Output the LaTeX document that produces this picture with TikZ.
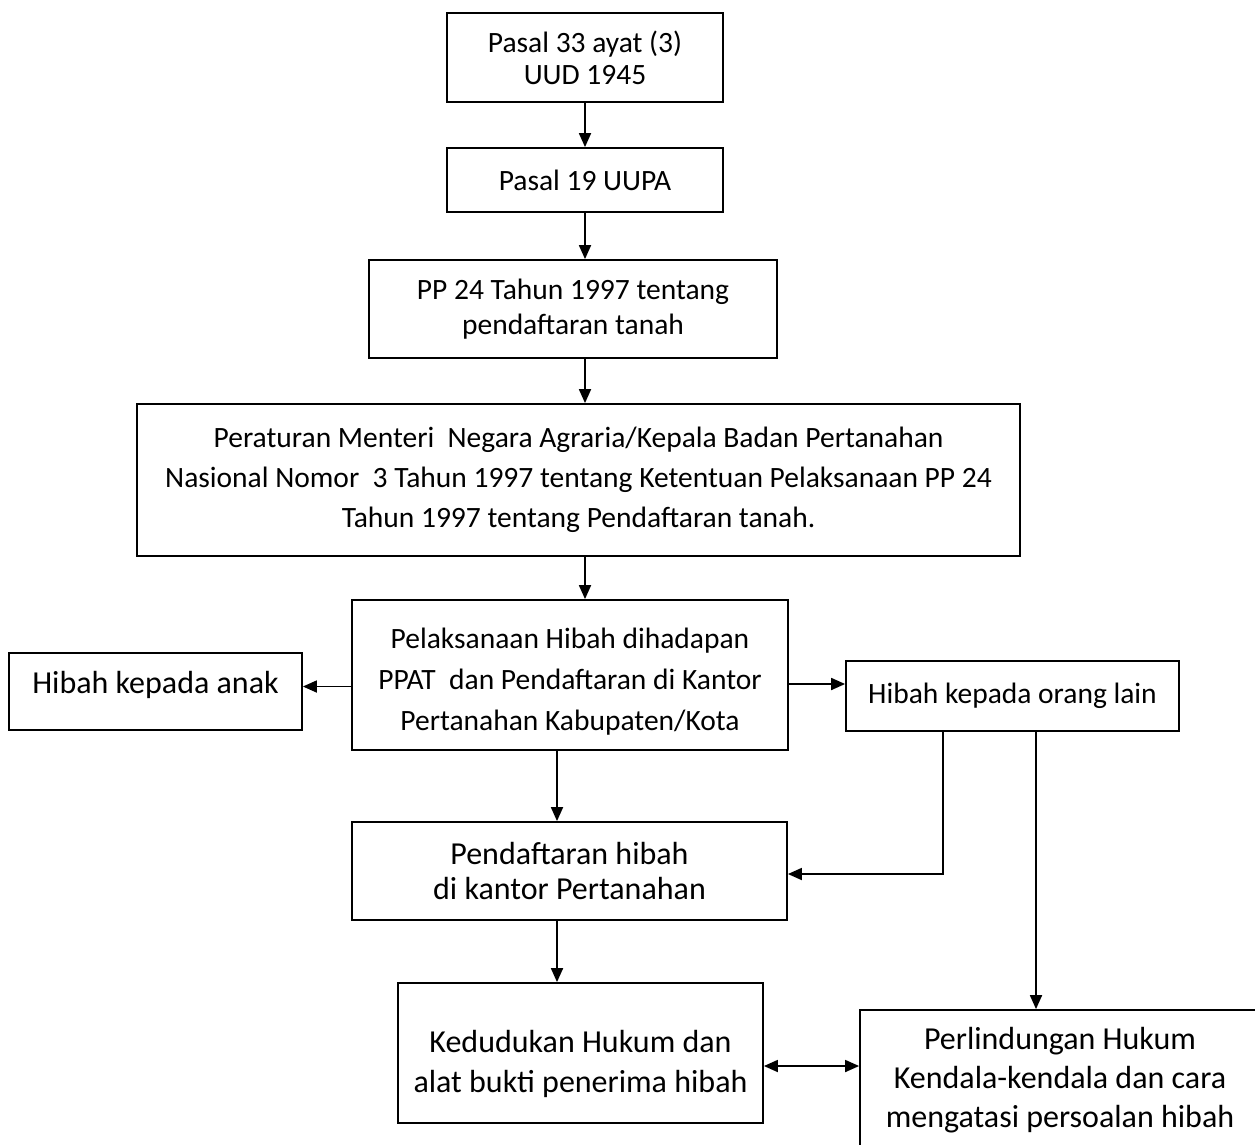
\documentclass[tikz,border=0pt]{standalone}
\usepackage{fontspec}
\setmainfont{Carlito}
\usetikzlibrary{arrows.meta}
\newcommand{\smalltext}[1]{\fontsize{29.5}{#1}\selectfont}
\newcommand{\bigtext}[1]{\fontsize{32}{#1}\selectfont}
\begin{document}
\begin{tikzpicture}
			[x=1pt,y=-1pt,box/.style={draw,line width=1.8pt,inner sep=0pt,align=center},>={Triangle[length=14pt,width=12pt]}]
			\useasboundingbox (0,0) rectangle (1255,1144);
			\node[box,name=uud,minimum width=276,minimum height=89,font=\smalltext{32}] at (585,57.5) {Pasal 33 ayat (3)\\UUD 1945};
			\node[box,name=uupa,minimum width=276,minimum height=64,font=\smalltext{32}] at (585,180) {Pasal 19 UUPA};
			\node[box,name=pp,minimum width=408,minimum height=98,font=\smalltext{35}] at (573,309) {PP 24 Tahun 1997 tentang\\pendaftaran tanah};
			\node[box,name=permen,minimum width=883,minimum height=152,font=\smalltext{40}] at (578.5,480) {Peraturan Menteri\ \ Negara Agraria/Kepala Badan Pertanahan\\Nasional Nomor\ \ 3 Tahun 1997 tentang Ketentuan Pelaksanaan PP 24\\Tahun 1997 tentang Pendaftaran tanah.};
			\node[box,name=pelaksanaan,minimum width=436,minimum height=150,font=\smalltext{41}] at (570,675) {\rule{0pt}{33pt}Pelaksanaan Hibah dihadapan\\PPAT\ \ dan Pendaftaran di Kantor\\Pertanahan Kabupaten/Kota};
			\node[box,name=anak,minimum width=293,minimum height=77,font=\bigtext{36}] at (155.5,691.5) {\rule[-19pt]{0pt}{19pt}Hibah kepada anak};
			\node[box,name=oranglain,minimum width=333,minimum height=70,font=\smalltext{32}] at (1012.5,696) {Hibah kepada orang lain};
			\node[box,name=pendaftaran,minimum width=435,minimum height=98,font=\bigtext{35}] at (569.5,871) {Pendaftaran hibah\\di kantor Pertanahan};
			\node[box,name=kedudukan,minimum width=365,minimum height=140,font=\bigtext{40}] at (580.5,1053) {\rule{0pt}{44pt}Kedudukan Hukum dan\\alat bukti penerima hibah};
			\node[box,name=perlindungan,minimum width=400,minimum height=140,font=\bigtext{39}] at (1060,1080) {Perlindungan Hukum\\Kendala-kendala dan cara\\mengatasi persoalan hibah};
			\draw[->,line width=1.8pt](uud)--(uupa);
			\draw[->,line width=1.8pt](uupa.south)--(uupa.south |- pp.north);
			\draw[->,line width=1.8pt](pp.south -| uud)--(uud |- permen.north);
			\draw[->,line width=1.8pt](permen.south -| uud)--(uud |- pelaksanaan.north);
			\draw[->,line width=1.8pt]([yshift=5pt]anak.east -| pelaksanaan.west)--([yshift=5pt]anak.east);
			\draw[->,line width=1.8pt]([yshift=12pt]oranglain.west -| pelaksanaan.east)--([yshift=12pt]oranglain.west);
			\draw[->,line width=1.8pt]([xshift=-13pt]pelaksanaan.south)--([xshift=-13pt]pelaksanaan.south |- pendaftaran.north);
			\draw[->,line width=1.8pt]([xshift=-69.5pt]oranglain.south)|-([yshift=-3pt]pendaftaran.east);
			\draw[->,line width=1.8pt]([xshift=23.5pt]oranglain.south)--([xshift=23.5pt]oranglain.south |- perlindungan.north);
			\draw[->,line width=1.8pt]([xshift=-12.5pt]pendaftaran.south)--([xshift=-12.5pt]pendaftaran.south |- kedudukan.north);
			\draw[<->,line width=1.8pt]([yshift=-13pt]kedudukan.east)--([yshift=-13pt]kedudukan.east -| perlindungan.west);
		\end{tikzpicture}
\end{document}
